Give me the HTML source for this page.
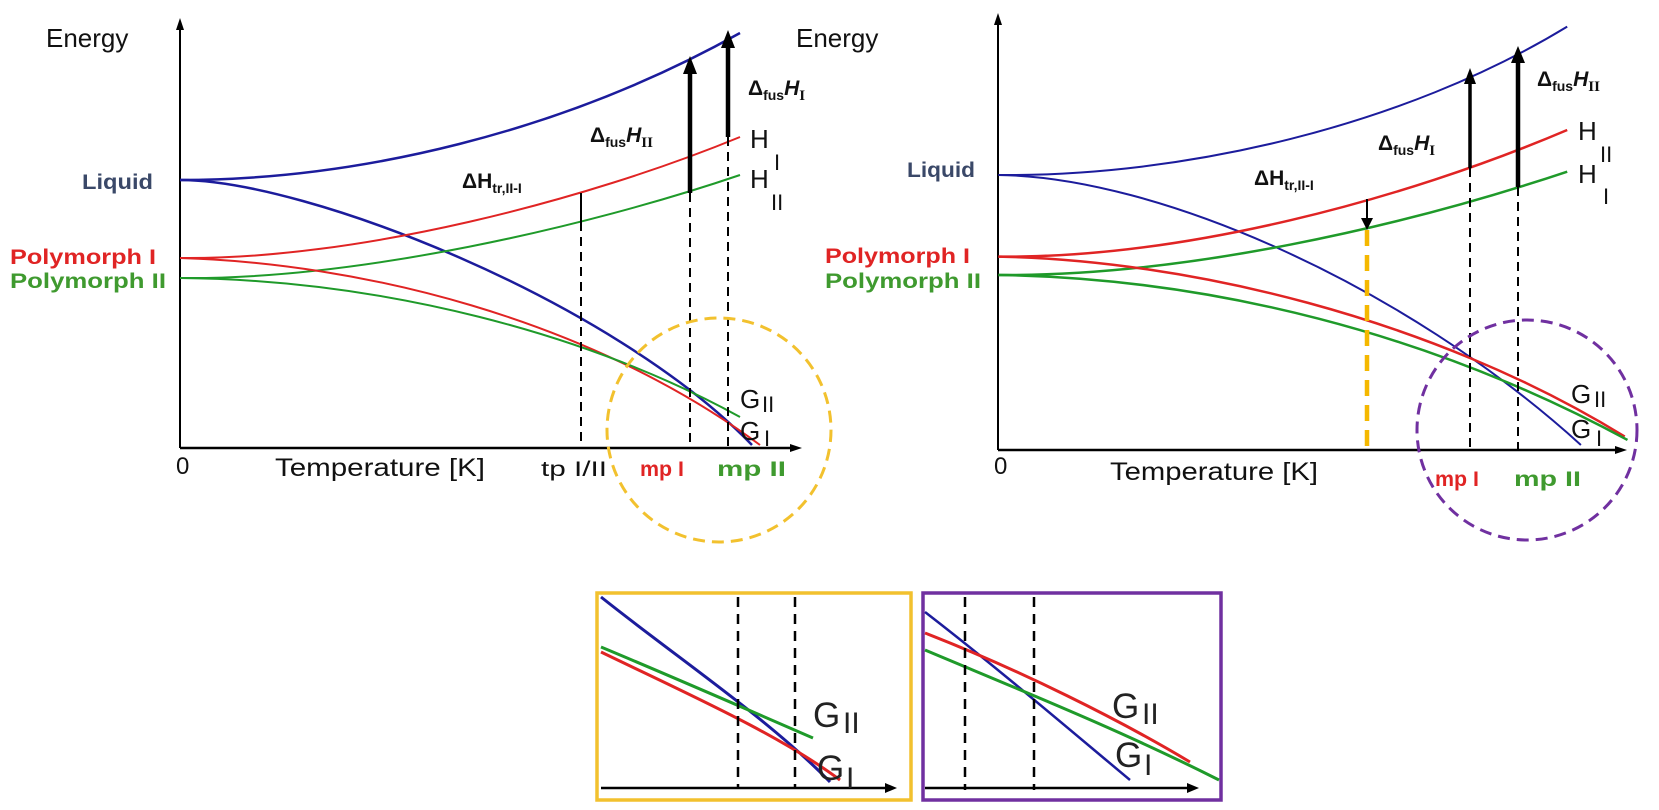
<!DOCTYPE html>
<html><head><meta charset="utf-8"><style>
html,body{margin:0;padding:0;background:#fff;}
svg{display:block;font-family:"Liberation Sans",sans-serif;}
</style></head><body>
<svg width="1659" height="810" viewBox="0 0 1659 810" xmlns="http://www.w3.org/2000/svg">
<!-- LEFT CHART -->
<g fill="none" stroke-width="2.5">
<line x1="180" y1="448" x2="180" y2="26" stroke="#000" stroke-width="2"/>
<polygon points="180,18 176,30 184,30" fill="#000" stroke="none"/>
<line x1="180" y1="448" x2="792" y2="448" stroke="#000" stroke-width="2.5"/>
<polygon points="802,448 790,444 790,452" fill="#000" stroke="none"/>
<path d="M180,180 C357,180 561,133 740,33" stroke="#1c1c9c"/>
<path d="M180,180 C306,180 612,300 752,445" stroke="#1c1c9c"/>
<path d="M180,258 C357,260 587,200 740,137" stroke="#e02424" stroke-width="2"/>
<path d="M180,278 C357,280 587,227 740,175" stroke="#1f9a2a" stroke-width="2"/>
<path d="M180,258 C357,263 587,317 760,445" stroke="#e02424" stroke-width="2"/>
<path d="M180,278 C383,280 587,333 740,417" stroke="#1f9a2a" stroke-width="2"/>
<line x1="581" y1="193" x2="581" y2="222" stroke="#000" stroke-width="2"/>
<line x1="581" y1="222" x2="581" y2="448" stroke="#000" stroke-width="2" stroke-dasharray="9,6"/>
<line x1="690" y1="193" x2="690" y2="448" stroke="#000" stroke-width="2" stroke-dasharray="9,6"/>
<line x1="728" y1="137" x2="728" y2="448" stroke="#000" stroke-width="2" stroke-dasharray="9,6"/>
<line x1="690" y1="193" x2="690" y2="70" stroke="#000" stroke-width="4.5"/>
<polygon points="690,56 683,74 697,74" fill="#000" stroke="none"/>
<line x1="728" y1="137" x2="728" y2="44" stroke="#000" stroke-width="4.5"/>
<polygon points="728,30 721,48 735,48" fill="#000" stroke="none"/>
<circle cx="719" cy="430" r="112" stroke="#f2c12e" stroke-width="3" stroke-dasharray="12,7"/>
</g>
<g font-size="26" fill="#111">
<text x="46" y="47">Energy</text>
<text x="82" y="189" font-size="21" font-weight="bold" fill="#3a4868" textLength="71" lengthAdjust="spacingAndGlyphs">Liquid</text>
<text x="10" y="264" font-size="21" font-weight="bold" fill="#e02424" textLength="146" lengthAdjust="spacingAndGlyphs">Polymorph I</text>
<text x="10" y="288" font-size="21" font-weight="bold" fill="#3f9a2f" textLength="156" lengthAdjust="spacingAndGlyphs">Polymorph II</text>
<text x="462" y="188" font-size="21" font-weight="bold">ΔH<tspan font-size="14" dy="5">tr,II-I</tspan></text>
<text x="590" y="142" font-size="21" font-weight="bold">Δ<tspan font-size="14" dy="5">fus</tspan><tspan dy="-5" font-style="italic">H</tspan><tspan font-size="15" dy="5" font-family="Liberation Serif">II</tspan></text>
<text x="748" y="95" font-size="21" font-weight="bold">Δ<tspan font-size="14" dy="5">fus</tspan><tspan dy="-5" font-style="italic">H</tspan><tspan font-size="15" dy="5" font-family="Liberation Serif">I</tspan></text>
<text x="750" y="148" font-size="26">H</text><text x="774" y="170" font-size="22">I</text>
<text x="750" y="188" font-size="26">H</text><text x="771" y="210" font-size="22">II</text>
<text x="740" y="408" font-size="26">G</text><text x="762" y="412" font-size="22">II</text>
<text x="740" y="440" font-size="26">G</text><text x="764" y="446" font-size="22">I</text>
<text x="176" y="474" font-size="24">0</text>
<text x="275" y="476" font-size="25" textLength="210" lengthAdjust="spacingAndGlyphs">Temperature [K]</text>
<text x="541" y="476" font-size="21" textLength="66" lengthAdjust="spacingAndGlyphs">tp I/II</text>
<text x="640" y="476" font-size="21" font-weight="bold" fill="#e02424" textLength="44" lengthAdjust="spacingAndGlyphs">mp I</text>
<text x="717" y="476" font-size="21" font-weight="bold" fill="#3f9a2f" textLength="69" lengthAdjust="spacingAndGlyphs">mp II</text>
</g>
<!-- RIGHT CHART -->
<g fill="none" stroke-width="2.5">
<line x1="998" y1="450" x2="998" y2="22" stroke="#000" stroke-width="2"/>
<polygon points="998,13 994,25 1002,25" fill="#000" stroke="none"/>
<line x1="998" y1="450" x2="1617" y2="450" stroke="#000" stroke-width="2.5"/>
<polygon points="1627,450 1615,446 1615,454" fill="#000" stroke="none"/>
<g transform="matrix(0.548 0 0 0.3333 800 0)">
<path d="M362,525 C700,530 1100,380 1400,80" stroke="#1c1c9c" stroke-width="2" vector-effect="non-scaling-stroke"/>
<path d="M362,525 C650,530 1100,850 1425,1335" stroke="#1c1c9c" stroke-width="2" vector-effect="non-scaling-stroke"/>
<path d="M362,770 C700,775 1100,600 1400,390" stroke="#e02424" stroke-width="2.5" vector-effect="non-scaling-stroke"/>
<path d="M362,825 C700,830 1100,680 1400,515" stroke="#1f9a2a" stroke-width="2.5" vector-effect="non-scaling-stroke"/>
<path d="M362,770 C700,780 1150,950 1505,1310" stroke="#e02424" stroke-width="2.5" vector-effect="non-scaling-stroke"/>
<path d="M362,825 C750,835 1150,1000 1510,1320" stroke="#1f9a2a" stroke-width="2.5" vector-effect="non-scaling-stroke"/>
</g>
<line x1="1367" y1="199" x2="1367" y2="220" stroke="#000" stroke-width="2"/>
<polygon points="1367,230 1361,218 1373,218" fill="#000" stroke="none"/>
<line x1="1367" y1="230" x2="1367" y2="448" stroke="#f5b800" stroke-width="4.5" stroke-dasharray="16,9"/>
<line x1="1470" y1="168" x2="1470" y2="450" stroke="#000" stroke-width="2" stroke-dasharray="9,6"/>
<line x1="1518" y1="187" x2="1518" y2="450" stroke="#000" stroke-width="2" stroke-dasharray="9,6"/>
<line x1="1470" y1="168" x2="1470" y2="80" stroke="#000" stroke-width="3.5"/>
<polygon points="1470,68 1464,84 1476,84" fill="#000" stroke="none"/>
<line x1="1518" y1="187" x2="1518" y2="58" stroke="#000" stroke-width="4.5"/>
<polygon points="1518,46 1511,63 1525,63" fill="#000" stroke="none"/>
<circle cx="1527" cy="430" r="110" stroke="#7030a0" stroke-width="3" stroke-dasharray="12,7"/>
</g>
<g font-size="26" fill="#111">
<text x="796" y="47">Energy</text>
<text x="907" y="177" font-size="21" font-weight="bold" fill="#3a4868" textLength="68" lengthAdjust="spacingAndGlyphs">Liquid</text>
<text x="825" y="263" font-size="21" font-weight="bold" fill="#e02424" textLength="145" lengthAdjust="spacingAndGlyphs">Polymorph I</text>
<text x="825" y="288" font-size="21" font-weight="bold" fill="#3f9a2f" textLength="156" lengthAdjust="spacingAndGlyphs">Polymorph II</text>
<text x="1254" y="185" font-size="21" font-weight="bold">ΔH<tspan font-size="14" dy="5">tr,II-I</tspan></text>
<text x="1378" y="150" font-size="21" font-weight="bold">Δ<tspan font-size="14" dy="5">fus</tspan><tspan dy="-5" font-style="italic">H</tspan><tspan font-size="15" dy="5" font-family="Liberation Serif">I</tspan></text>
<text x="1537" y="86" font-size="21" font-weight="bold">Δ<tspan font-size="14" dy="5">fus</tspan><tspan dy="-5" font-style="italic">H</tspan><tspan font-size="15" dy="5" font-family="Liberation Serif">II</tspan></text>
<text x="1578" y="140" font-size="26">H</text><text x="1600" y="162" font-size="22">II</text>
<text x="1578" y="183" font-size="26">H</text><text x="1603" y="204" font-size="22">I</text>
<text x="1571" y="403" font-size="26">G</text><text x="1594" y="407" font-size="22">II</text>
<text x="1571" y="438" font-size="26">G</text><text x="1596" y="446" font-size="22">I</text>
<text x="994" y="474" font-size="24">0</text>
<text x="1110" y="480" font-size="25" textLength="208" lengthAdjust="spacingAndGlyphs">Temperature [K]</text>
<text x="1435" y="486" font-size="21" font-weight="bold" fill="#e02424" textLength="44" lengthAdjust="spacingAndGlyphs">mp I</text>
<text x="1514" y="486" font-size="21" font-weight="bold" fill="#3f9a2f" textLength="67" lengthAdjust="spacingAndGlyphs">mp II</text>
</g>
<!-- INSETS -->
<g fill="none">
<rect x="597" y="593" width="314" height="207" stroke="#f2c12e" stroke-width="3.5"/>
<path d="M601,597 C680,660 770,720 830,782" stroke="#1c1c9c" stroke-width="3"/>
<path d="M601,647 C680,680 760,715 813,738" stroke="#1f9a2a" stroke-width="3"/>
<path d="M601,652 C690,695 780,735 840,780" stroke="#e02424" stroke-width="3"/>
<line x1="738" y1="597" x2="738" y2="788" stroke="#000" stroke-width="2.5" stroke-dasharray="10,7"/>
<line x1="795" y1="597" x2="795" y2="788" stroke="#000" stroke-width="2.5" stroke-dasharray="10,7"/>
<line x1="601" y1="788" x2="887" y2="788" stroke="#000" stroke-width="2.5"/>
<polygon points="897,788 885,783 885,793" fill="#000"/>
<rect x="923" y="593" width="298" height="207" stroke="#7030a0" stroke-width="3.5"/>
<path d="M925,612 C1000,670 1070,730 1130,780" stroke="#1c1c9c" stroke-width="2.5"/>
<path d="M925,633 C1020,670 1120,720 1190,762" stroke="#e02424" stroke-width="3"/>
<path d="M925,650 C1020,690 1120,730 1219,780" stroke="#1f9a2a" stroke-width="3"/>
<line x1="965" y1="597" x2="965" y2="790" stroke="#000" stroke-width="2.5" stroke-dasharray="10,7"/>
<line x1="1034" y1="597" x2="1034" y2="790" stroke="#000" stroke-width="2.5" stroke-dasharray="10,7"/>
<line x1="925" y1="788" x2="1189" y2="788" stroke="#000" stroke-width="2.5"/>
<polygon points="1199,788 1187,783 1187,793" fill="#000"/>
</g>
<g fill="#222">
<text x="813" y="727" font-size="35">G</text><text x="843" y="733" font-size="30">II</text>
<text x="817" y="780" font-size="35">G</text><text x="846" y="788" font-size="30">I</text>
<text x="1112" y="718" font-size="35">G</text><text x="1142" y="724" font-size="30">II</text>
<text x="1115" y="767" font-size="35">G</text><text x="1144" y="775" font-size="30">I</text>
</g>
</svg>
</body></html>
